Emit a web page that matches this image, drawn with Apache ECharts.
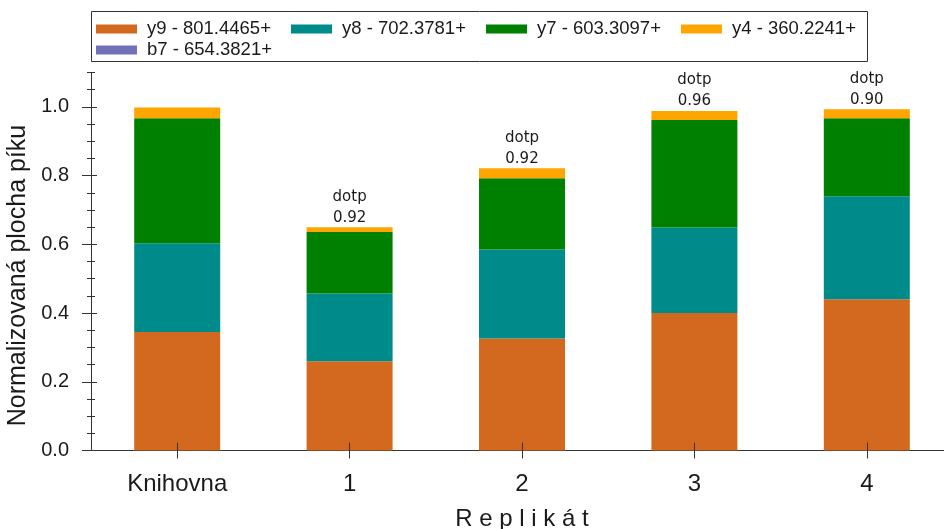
<!DOCTYPE html>
<html>
<head>
<meta charset="utf-8">
<script src="https://cdn.jsdelivr.net/npm/echarts@6/dist/echarts.min.js"></script>
<style>
html,body{margin:0;padding:0;background:#fff;}
#chart{width:944px;height:529px;}
</style>
</head>
<body>
<div id="chart"></div>
<script>
// ---- data ----
const categories = ['Knihovna', '1', '2', '3', '4'];
const y9 = [0.345, 0.260, 0.326, 0.400, 0.440];
const y8 = [0.258, 0.197, 0.259, 0.249, 0.300];
const y7 = [0.364, 0.179, 0.207, 0.313, 0.227];
const y4 = [0.031, 0.014, 0.029, 0.026, 0.026];
const b7 = [0, 0, 0, 0, 0];
const dotp = [null, '0.92', '0.92', '0.96', '0.90'];
const seriesNames = ['y9 - 801.4465+', 'y8 - 702.3781+', 'y7 - 603.3097+', 'y4 - 360.2241+', 'b7 - 654.3821+'];
const yMajorTicks = [0, 0.2, 0.4, 0.6, 0.8, 1.0];
const yMinorTicks = [0, 0.05, 0.1, 0.15, 0.2, 0.25, 0.3, 0.35, 0.4, 0.45, 0.5, 0.55, 0.6, 0.65, 0.7, 0.75, 0.8, 0.85, 0.9, 0.95, 1.0, 1.05, 1.1];
const yMax = 1.1;

// ---- styling ----
const colors = ['#D2691E', '#008B8B', '#008000', '#FFA500', '#7272B8'];
const axisColor = '#333333';
const textColor = '#1a1a1a';
const font = '"Liberation Sans", Arial, sans-serif';

const chart = echarts.init(document.getElementById('chart'), null, {renderer: 'canvas'});

const values = [y9, y8, y7, y4, b7];
const series = values.map((arr, i) => {
  const s = {
    name: seriesNames[i],
    type: 'bar',
    stack: 'total',
    data: arr,
    barWidth: 86,
    itemStyle: {color: colors[i]},
    emphasis: {disabled: true},
    xAxisIndex: 0,
    yAxisIndex: 0
  };
  if (i === 3) {
    s.label = {
      show: true,
      position: 'top',
      distance: -1,
      fontFamily: '"DejaVu Sans", sans-serif',
      fontSize: 15,
      lineHeight: 21,
      color: textColor,
      formatter: p => dotp[p.dataIndex] ? 'dotp\n' + dotp[p.dataIndex] : ''
    };
  }
  return s;
});

const option = {
  animation: false,
  backgroundColor: '#ffffff',
  color: colors,
  graphic: [{
    type: 'rect',
    z: 8,
    silent: true,
    shape: {x: 91.5, y: 11.5, width: 776, height: 50},
    style: {fill: '#ffffff', stroke: '#333333', lineWidth: 1}
  }],
  legend: {
    data: seriesNames,
    left: 91,
    top: 11,
    width: 790,
    orient: 'horizontal',
    padding: [8, 0, 3, 5],
    itemWidth: 41,
    itemHeight: 9,
    itemGap: 1,
    icon: 'rect',
    z: 10,
    selectedMode: false,
    textStyle: {
      fontFamily: font,
      fontSize: 18.5,
      lineHeight: 20,
      color: textColor,
      width: 143,
      overflow: 'none',
      padding: [0, 0, 0, 5]
    }
  },
  grid: {left: 91, top: 72.5, width: 862, bottom: 78.5, containLabel: false, outerBoundsMode: 'none'},
  xAxis: [
    {
      type: 'category',
      data: categories,
      position: 'bottom',
      axisLine: {show: true, lineStyle: {color: axisColor, width: 1}},
      axisTick: {show: false},
      axisLabel: {fontFamily: font, fontSize: 24, color: textColor, margin: 22},
      name: 'R e p l i k á t',
      nameLocation: 'middle',
      nameGap: 57,
      nameTextStyle: {fontFamily: font, fontSize: 24, color: textColor}
    },
    {
      type: 'category',
      data: categories,
      position: 'bottom',
      offset: -8,
      z: 10,
      axisLine: {show: false},
      axisTick: {show: true, alignWithLabel: true, length: 16, lineStyle: {color: axisColor}},
      axisLabel: {show: false}
    }
  ],
  yAxis: [
    {
      type: 'value',
      min: 0,
      max: yMax,
      position: 'left',
      axisLine: {show: true, lineStyle: {color: axisColor, width: 1}},
      axisTick: {show: false},
      splitLine: {show: false},
      axisLabel: {
        customValues: yMajorTicks,
        fontFamily: font,
        fontSize: 20,
        color: textColor,
        margin: 22,
        formatter: v => v.toFixed(1)
      },
      name: 'Normalizovaná plocha píku',
      nameLocation: 'middle',
      nameGap: 60,
      nameTextStyle: {fontFamily: font, fontSize: 25, color: textColor, padding: [0, 28, 0, 0]}
    },
    {
      type: 'value',
      min: 0,
      max: yMax,
      position: 'left',
      offset: -6,
      z: 10,
      axisLine: {show: false},
      splitLine: {show: false},
      axisLabel: {show: false},
      axisTick: {show: true, customValues: yMajorTicks, length: 15, lineStyle: {color: axisColor}}
    },
    {
      type: 'value',
      min: 0,
      max: yMax,
      position: 'left',
      offset: -4,
      z: 10,
      axisLine: {show: false},
      splitLine: {show: false},
      axisLabel: {show: false},
      axisTick: {show: true, customValues: yMinorTicks, length: 8, lineStyle: {color: axisColor}}
    }
  ],
  series: series
};

chart.setOption(option);
</script>
</body>
</html>
